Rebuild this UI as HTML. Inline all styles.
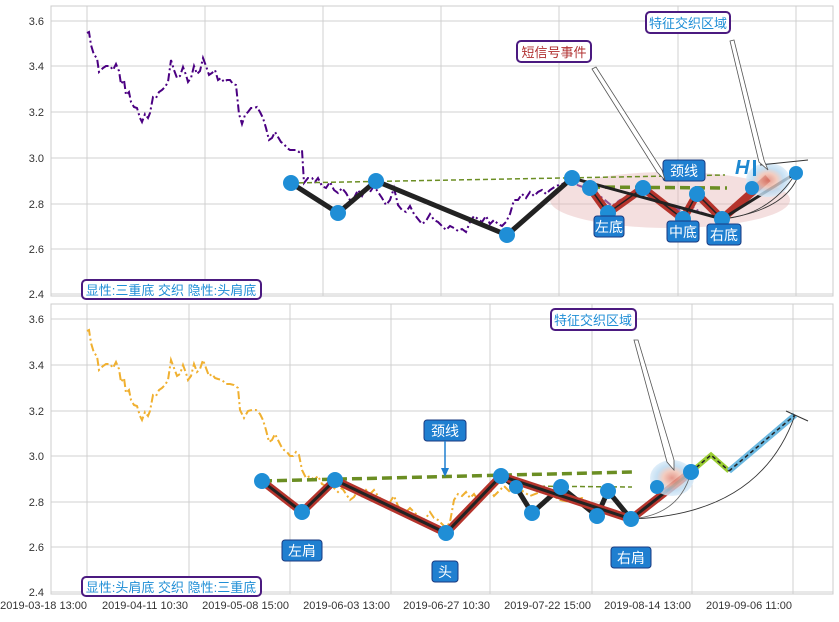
<!DOCTYPE html>
<html><head><meta charset="utf-8"><style>
body{margin:0;background:#fff;width:839px;height:617px;overflow:hidden}
svg text{font-family:"Liberation Sans","Noto Sans CJK SC",sans-serif}
</style></head><body>
<svg width="839" height="617" xmlns="http://www.w3.org/2000/svg">
<defs>
<radialGradient id="hl"><stop offset="0" stop-color="#e08070"/><stop offset="0.4" stop-color="#f0c0b0"/><stop offset="0.7" stop-color="#b8d8f0"/><stop offset="1" stop-color="#d8eaf8"/></radialGradient>
</defs>
<!-- TOP PANEL -->
<rect x="51" y="6" width="782" height="290" fill="#fff" stroke="#ccc"/>
<g stroke="#d0d0d0" stroke-width="1">
<line x1="51" x2="833" y1="21" y2="21"/><line x1="51" x2="833" y1="66" y2="66"/><line x1="51" x2="833" y1="112" y2="112"/><line x1="51" x2="833" y1="158" y2="158"/><line x1="51" x2="833" y1="204" y2="204"/><line x1="51" x2="833" y1="249" y2="249"/><line x1="51" x2="833" y1="294" y2="294"/>
<line x1="87" x2="87" y1="6" y2="296"/><line x1="205" x2="205" y1="6" y2="296"/><line x1="323" x2="323" y1="6" y2="296"/><line x1="441" x2="441" y1="6" y2="296"/><line x1="559" x2="559" y1="6" y2="296"/><line x1="678" x2="678" y1="6" y2="296"/><line x1="796" x2="796" y1="6" y2="296"/>
</g>
<g font-size="11" fill="#333" text-anchor="end">
<text x="44" y="25">3.6</text><text x="44" y="70">3.4</text><text x="44" y="116">3.2</text><text x="44" y="162">3.0</text><text x="44" y="208">2.8</text><text x="44" y="253">2.6</text><text x="44" y="298">2.4</text>
</g>
<polyline fill="none" stroke="#4b0082" stroke-width="2" stroke-dasharray="8,3,2,3" points="87,33 89,32 91,45 94,55 97,58 99,72 103,68 106,66 110,66 113,70 116,64 119,71 121,84 124,80 126,95 129,92 131,102 134,107 137,108 140,118 142,122 145,114 148,118 150,113 153,97 156,98 159,92 162,90 165,87 168,82 171,60 174,70 177,78 180,76 183,67 186,75 188,82 191,78 194,66 197,74 200,71 203,58 206,66 209,75 212,73 215,70 218,80 221,78 224,82 227,80 230,80 233,84 236,85 239,114 242,124 245,115 248,112 251,108 254,108 257,107 260,112 263,118 266,128 269,140 272,138 275,132 278,137 281,142 284,144 287,148 290,150 293,150 296,150 299,152 302,150 304,183 308,178 312,178 315,182 318,178 322,186 326,188 330,182 334,190 338,193 342,188 346,193 350,200 354,198 358,190 362,196 366,188 370,192 374,186 378,192 382,198 386,205 390,200 394,188 398,205 402,210 406,212 410,206 414,214 418,219 422,224 426,221 430,214 434,220 438,222 442,226 446,230 450,226 454,228 458,231 462,229 466,232 470,222 474,216 478,219 482,222 486,216 490,224 494,220 498,224 502,226 506,222 510,214 514,200 518,200 522,194 526,198 530,192 534,196 538,192 542,190 546,194 550,190 556,186 562,184 570,182 580,186 592,190 600,196 612,206 620,200 632,196 640,190 650,192 660,200 670,206 680,210 690,205 700,212 712,216"/>
<ellipse cx="670" cy="200" rx="120" ry="28" fill="#e7b8b8" opacity="0.45"/>
<line x1="291" y1="183" x2="725" y2="175" stroke="#6b8e23" stroke-width="1.5" stroke-dasharray="5,3"/>
<line x1="590" y1="187" x2="727" y2="188" stroke="#6b8e23" stroke-width="3.5" stroke-dasharray="10,5"/>
<polyline fill="none" stroke="#222" stroke-width="5" points="291,183 338,213 376,181 507,235 572,178"/>
<polyline fill="none" stroke="#b5342c" stroke-width="8" points="590,188 608,213 643,188 683,219 697,194 722,219 768,178"/>
<polyline fill="none" stroke="#222" stroke-width="3" points="572,178 722,219 796,173"/>
<polyline fill="none" stroke="#222" stroke-width="1.5" points="590,188 608,213 643,188 683,219 697,194 722,219"/>
<ellipse cx="768" cy="180" rx="22" ry="17" fill="url(#hl)" opacity="0.8"/>
<path d="M722,219 Q770,215 796,173" fill="none" stroke="#333" stroke-width="0.8"/>
<path d="M722,219 Q790,210 800,170" fill="none" stroke="#333" stroke-width="0.8"/>
<line x1="760" y1="165" x2="808" y2="160" stroke="#333" stroke-width="1"/>
<text x="735" y="174" font-size="20" font-weight="bold" font-style="italic" fill="#1e88d0">H</text>
<rect x="753" y="160" width="3" height="16" fill="#1e88d0"/>
<g fill="#1f8ed6">
<circle cx="291" cy="183" r="8"/><circle cx="338" cy="213" r="8"/><circle cx="376" cy="181" r="8"/><circle cx="507" cy="235" r="8"/><circle cx="572" cy="178" r="8"/><circle cx="590" cy="188" r="8"/><circle cx="608" cy="213" r="8"/><circle cx="643" cy="188" r="8"/><circle cx="683" cy="219" r="8"/><circle cx="697" cy="194" r="8"/><circle cx="722" cy="219" r="8"/><circle cx="752" cy="188" r="7"/><circle cx="796" cy="173" r="7"/>
</g>
<g font-size="14" fill="#fff">
<rect x="663" y="160" width="42" height="21" rx="3" fill="#1f7fd0" stroke="#1a3a80"/><text x="684" y="176" text-anchor="middle">颈线</text>
<rect x="594" y="216" width="30" height="21" rx="3" fill="#1f7fd0" stroke="#1a3a80"/><text x="609" y="232" text-anchor="middle">左底</text>
<rect x="667" y="221" width="32" height="21" rx="3" fill="#1f7fd0" stroke="#1a3a80"/><text x="683" y="237" text-anchor="middle">中底</text>
<rect x="707" y="224" width="34" height="21" rx="3" fill="#1f7fd0" stroke="#1a3a80"/><text x="724" y="240" text-anchor="middle">右底</text>
</g>
<polygon points="592,69 596,67 662,170 665,180 657,172" fill="#fff" stroke="#555" stroke-width="0.8"/>
<polygon points="730,41 734,40 764,160 768,170 759,162" fill="#fff" stroke="#555" stroke-width="0.8"/>
<rect x="517" y="41" width="74" height="21" rx="4" fill="#fff" stroke="#4b1a80" stroke-width="2"/><text x="554" y="57" font-size="13" fill="#b03030" text-anchor="middle">短信号事件</text>
<rect x="646" y="12" width="84" height="21" rx="4" fill="#fff" stroke="#4b1a80" stroke-width="2"/><text x="688" y="28" font-size="13" fill="#1f8ed6" text-anchor="middle">特征交织区域</text>
<rect x="82" y="280" width="179" height="19" rx="4" fill="#fff" stroke="#4b1a80" stroke-width="2"/><text x="171" y="295" font-size="13" fill="#1f8ed6" text-anchor="middle">显性:三重底 交织 隐性:头肩底</text>

<!-- BOTTOM PANEL -->
<rect x="51" y="304" width="782" height="290" fill="#fff" stroke="#ccc"/>
<g stroke="#d0d0d0" stroke-width="1">
<line x1="51" x2="833" y1="319" y2="319"/><line x1="51" x2="833" y1="365" y2="365"/><line x1="51" x2="833" y1="411" y2="411"/><line x1="51" x2="833" y1="456" y2="456"/><line x1="51" x2="833" y1="502" y2="502"/><line x1="51" x2="833" y1="547" y2="547"/><line x1="51" x2="833" y1="592" y2="592"/>
<line x1="87" x2="87" y1="304" y2="594"/><line x1="189" x2="189" y1="304" y2="594"/><line x1="290" x2="290" y1="304" y2="594"/><line x1="391" x2="391" y1="304" y2="594"/><line x1="490" x2="490" y1="304" y2="594"/><line x1="592" x2="592" y1="304" y2="594"/><line x1="692" x2="692" y1="304" y2="594"/><line x1="793" x2="793" y1="304" y2="594"/>
</g>
<g font-size="11" fill="#333" text-anchor="end">
<text x="44" y="323">3.6</text><text x="44" y="369">3.4</text><text x="44" y="415">3.2</text><text x="44" y="460">3.0</text><text x="44" y="506">2.8</text><text x="44" y="551">2.6</text><text x="44" y="596">2.4</text>
<text x="87" y="609">2019-03-18 13:00</text><text x="188" y="609">2019-04-11 10:30</text><text x="289" y="609">2019-05-08 15:00</text><text x="390" y="609">2019-06-03 13:00</text><text x="490" y="609">2019-06-27 10:30</text><text x="591" y="609">2019-07-22 15:00</text><text x="691" y="609">2019-08-14 13:00</text><text x="792" y="609">2019-09-06 11:00</text>
</g>
<polyline fill="none" stroke="#f0b030" stroke-width="2" stroke-dasharray="8,3,2,3" points="87,331 89,330 91,343 94,353 97,356 99,370 103,366 106,364 110,364 113,368 116,362 119,369 121,382 124,378 126,393 129,390 131,400 134,405 137,406 140,416 142,420 145,412 148,416 150,411 153,395 156,396 159,390 162,388 165,385 168,380 171,360 174,368 177,376 180,374 183,365 186,373 188,380 191,376 194,364 197,372 200,369 203,360 206,368 209,376 212,374 215,378 218,379 222,380 226,384 230,384 234,385 238,388 240,410 244,418 248,411 252,410 256,410 260,414 263,420 266,430 269,442 272,440 275,434 278,440 281,446 284,450 287,452 290,456 293,456 296,452 299,455 302,470 306,478 310,476 314,480 318,476 322,484 326,486 330,480 334,488 338,492 342,488 346,494 350,500 354,497 358,490 362,496 366,490 370,494 374,490 378,496 382,500 386,507 390,502 394,496 398,506 402,510 406,512 410,508 414,512 418,516 422,520 426,518 430,512 434,518 438,520 442,524 446,528 450,522 454,500 458,494 462,496 466,492 470,498 474,494 478,500 482,498 486,494 490,490 494,496 498,492 504,486 510,492 518,488 530,496 540,492 550,494 560,500 570,502 582,498 592,506 604,510 615,514"/>
<line x1="262" y1="481" x2="632" y2="472" stroke="#6b8e23" stroke-width="3.5" stroke-dasharray="10,5"/>
<line x1="516" y1="486" x2="632" y2="487" stroke="#6b8e23" stroke-width="1.5" stroke-dasharray="5,3"/>
<polyline fill="none" stroke="#222" stroke-width="5" points="501,476 516,487 532,513 561,487 597,516 608,491 631,519"/>
<polyline fill="none" stroke="#b5342c" stroke-width="8" points="262,481 302,512 335,480 446,533 501,476 631,519 691,472"/>
<polyline fill="none" stroke="#222" stroke-width="3" points="262,481 302,512 335,480 446,533 501,476 631,519 691,472"/>
<ellipse cx="672" cy="478" rx="22" ry="18" fill="url(#hl)" opacity="0.8"/>
<polyline fill="none" stroke="#9acd32" stroke-width="5" points="691,472 711,455 729,471"/>
<polyline fill="none" stroke="#222" stroke-width="1.5" stroke-dasharray="4,3" points="691,472 711,455 729,471"/>
<line x1="729" y1="471" x2="795" y2="415" stroke="#6bb8e0" stroke-width="6"/>
<line x1="729" y1="471" x2="795" y2="415" stroke="#222" stroke-width="1.5" stroke-dasharray="4,3"/>
<path d="M631,519 Q760,515 795,415" fill="none" stroke="#333" stroke-width="0.9"/>
<path d="M631,519 Q680,515 691,472" fill="none" stroke="#666" stroke-width="0.8"/>
<line x1="786" y1="411" x2="808" y2="421" stroke="#333" stroke-width="1"/>
<g fill="#1f8ed6">
<circle cx="262" cy="481" r="8"/><circle cx="302" cy="512" r="8"/><circle cx="335" cy="480" r="8"/><circle cx="446" cy="533" r="8"/><circle cx="501" cy="476" r="8"/><circle cx="516" cy="487" r="7"/><circle cx="532" cy="513" r="8"/><circle cx="561" cy="487" r="8"/><circle cx="597" cy="516" r="8"/><circle cx="608" cy="491" r="8"/><circle cx="631" cy="519" r="8"/><circle cx="657" cy="487" r="7"/><circle cx="691" cy="472" r="8"/>
</g>
<g font-size="14" fill="#fff">
<rect x="282" y="540" width="40" height="21" rx="3" fill="#1f7fd0" stroke="#1a3a80"/><text x="302" y="556" text-anchor="middle">左肩</text>
<rect x="432" y="561" width="26" height="21" rx="3" fill="#1f7fd0" stroke="#1a3a80"/><text x="445" y="577" text-anchor="middle">头</text>
<rect x="611" y="547" width="40" height="21" rx="3" fill="#1f7fd0" stroke="#1a3a80"/><text x="631" y="563" text-anchor="middle">右肩</text>
<rect x="424" y="420" width="42" height="21" rx="3" fill="#1f7fd0" stroke="#1a3a80"/><text x="445" y="436" text-anchor="middle">颈线</text>
</g>
<line x1="445" y1="441" x2="445" y2="470" stroke="#1f7fd0" stroke-width="1.5"/>
<polygon points="441,468 449,468 445,477" fill="#1f7fd0"/>
<polygon points="634,340 638,340 674,460 674,470 667,462" fill="#fff" stroke="#555" stroke-width="0.8"/>
<rect x="551" y="309" width="85" height="21" rx="4" fill="#fff" stroke="#4b1a80" stroke-width="2"/><text x="593" y="325" font-size="13" fill="#1f8ed6" text-anchor="middle">特征交织区域</text>
<rect x="82" y="577" width="179" height="19" rx="4" fill="#fff" stroke="#4b1a80" stroke-width="2"/><text x="171" y="592" font-size="13" fill="#1f8ed6" text-anchor="middle">显性:头肩底 交织 隐性:三重底</text>
</svg>
</body></html>
